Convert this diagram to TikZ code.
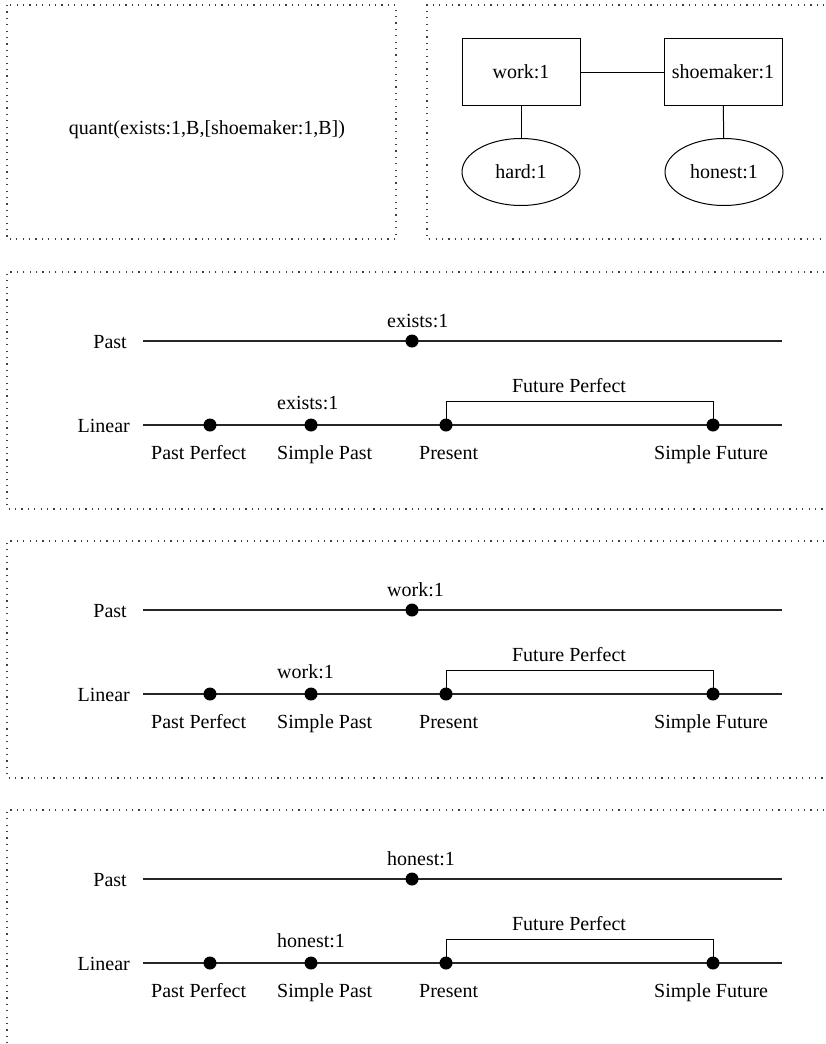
\documentclass[tikz,border=0pt]{standalone}
\usepackage{fontspec}
\setmainfont{Liberation Serif}
\usetikzlibrary{shapes.geometric}
\begin{document}
\begin{tikzpicture}[x=1pt,y=-1pt,
  txt/.style={font=\fontsize{20}{24}\selectfont, inner sep=0pt},
  frame/.style={draw=black!75, line width=1.1pt, dash pattern=on 1.2pt off 5.2pt},
  conceptbox/.style={txt, draw, line width=1pt, minimum width=118pt, minimum height=67pt},
  relnode/.style={txt, ellipse, draw, line width=1pt, minimum width=118pt, minimum height=67pt},
  link/.style={line width=1pt},
  axis/.style={line width=1.2pt, draw=black!85},
  tick/.style={circle, fill=black, inner sep=0pt, minimum size=13pt},
  bracket/.style={line width=1pt}]
\useasboundingbox (0,0) rectangle (825,1044);
\clip (0,0) rectangle (825,1044);

% quantifier panel
\draw[frame] (7,5) rectangle (396,239);
\node[txt, anchor=base] (quant) at (207,134) {quant(exists:1,B,[shoemaker:1,B])};

% conceptual graph panel
\draw[frame] (850,5) -- (427,5) -- (427,239) -- (850,239);
\node[conceptbox] (work) at (521,72) {work:1};
\node[conceptbox] (shoe) at (723,72) {shoemaker:1};
\node[relnode] (hard) at (521,172) {hard:1};
\node[relnode] (honest) at (724,172) {honest:1};
\draw[link] (work) -- (shoe);
\draw[link] (work) -- (hard);
\draw[link] (shoe) -- (honest);

% tense timelines
\foreach \k/\w [count=\i] in {0/exists:1, 269/work:1, 538/honest:1} {
  \begin{scope}[shift={(0,\k)}]
    \draw[frame] (850,272) -- (7,272) -- (7,509) -- (850,509);
    % past axis
    \node[txt, anchor=base east] (pl\i) at (127,348) {Past};
    \coordinate (ps\i) at (143,341);
    \coordinate (pe\i) at (782,341);
    \draw[axis] (ps\i) -- (pe\i);
    \node[tick] (pd\i) at (412,341) {};
    \node[txt, anchor=base west] (pw\i) at (387,327) {\w};
    % linear axis
    \node[txt, anchor=base east] (ll\i) at (130,432) {Linear};
    \coordinate (ls\i) at (143,425);
    \coordinate (le\i) at (782,425);
    \coordinate (bk\i) at (446,401);
    \draw[axis] (ls\i) -- (le\i);
    \node[tick] (pp\i) at (210,425) {};
    \node[tick] (sp\i) at (311,425) {};
    \node[tick] (pr\i) at (446,425) {};
    \node[tick] (sf\i) at (713,425) {};
    \draw[bracket] (pr\i.center) -- (pr\i.center |- bk\i) -| (sf\i.center);
    \node[txt, anchor=base] (fp\i) at (569,392) {Future Perfect};
    \node[txt, anchor=base west] (lw\i) at (277,409) {\w};
    \node[txt, anchor=base west] (ppl\i) at (151,459) {Past Perfect};
    \node[txt, anchor=base west] (spl\i) at (277,459) {Simple Past};
    \node[txt, anchor=base west] (prl\i) at (419,459) {Present};
    \node[txt, anchor=base west] (sfl\i) at (654,459) {Simple Future};
  \end{scope}
}
\end{tikzpicture}
\end{document}
